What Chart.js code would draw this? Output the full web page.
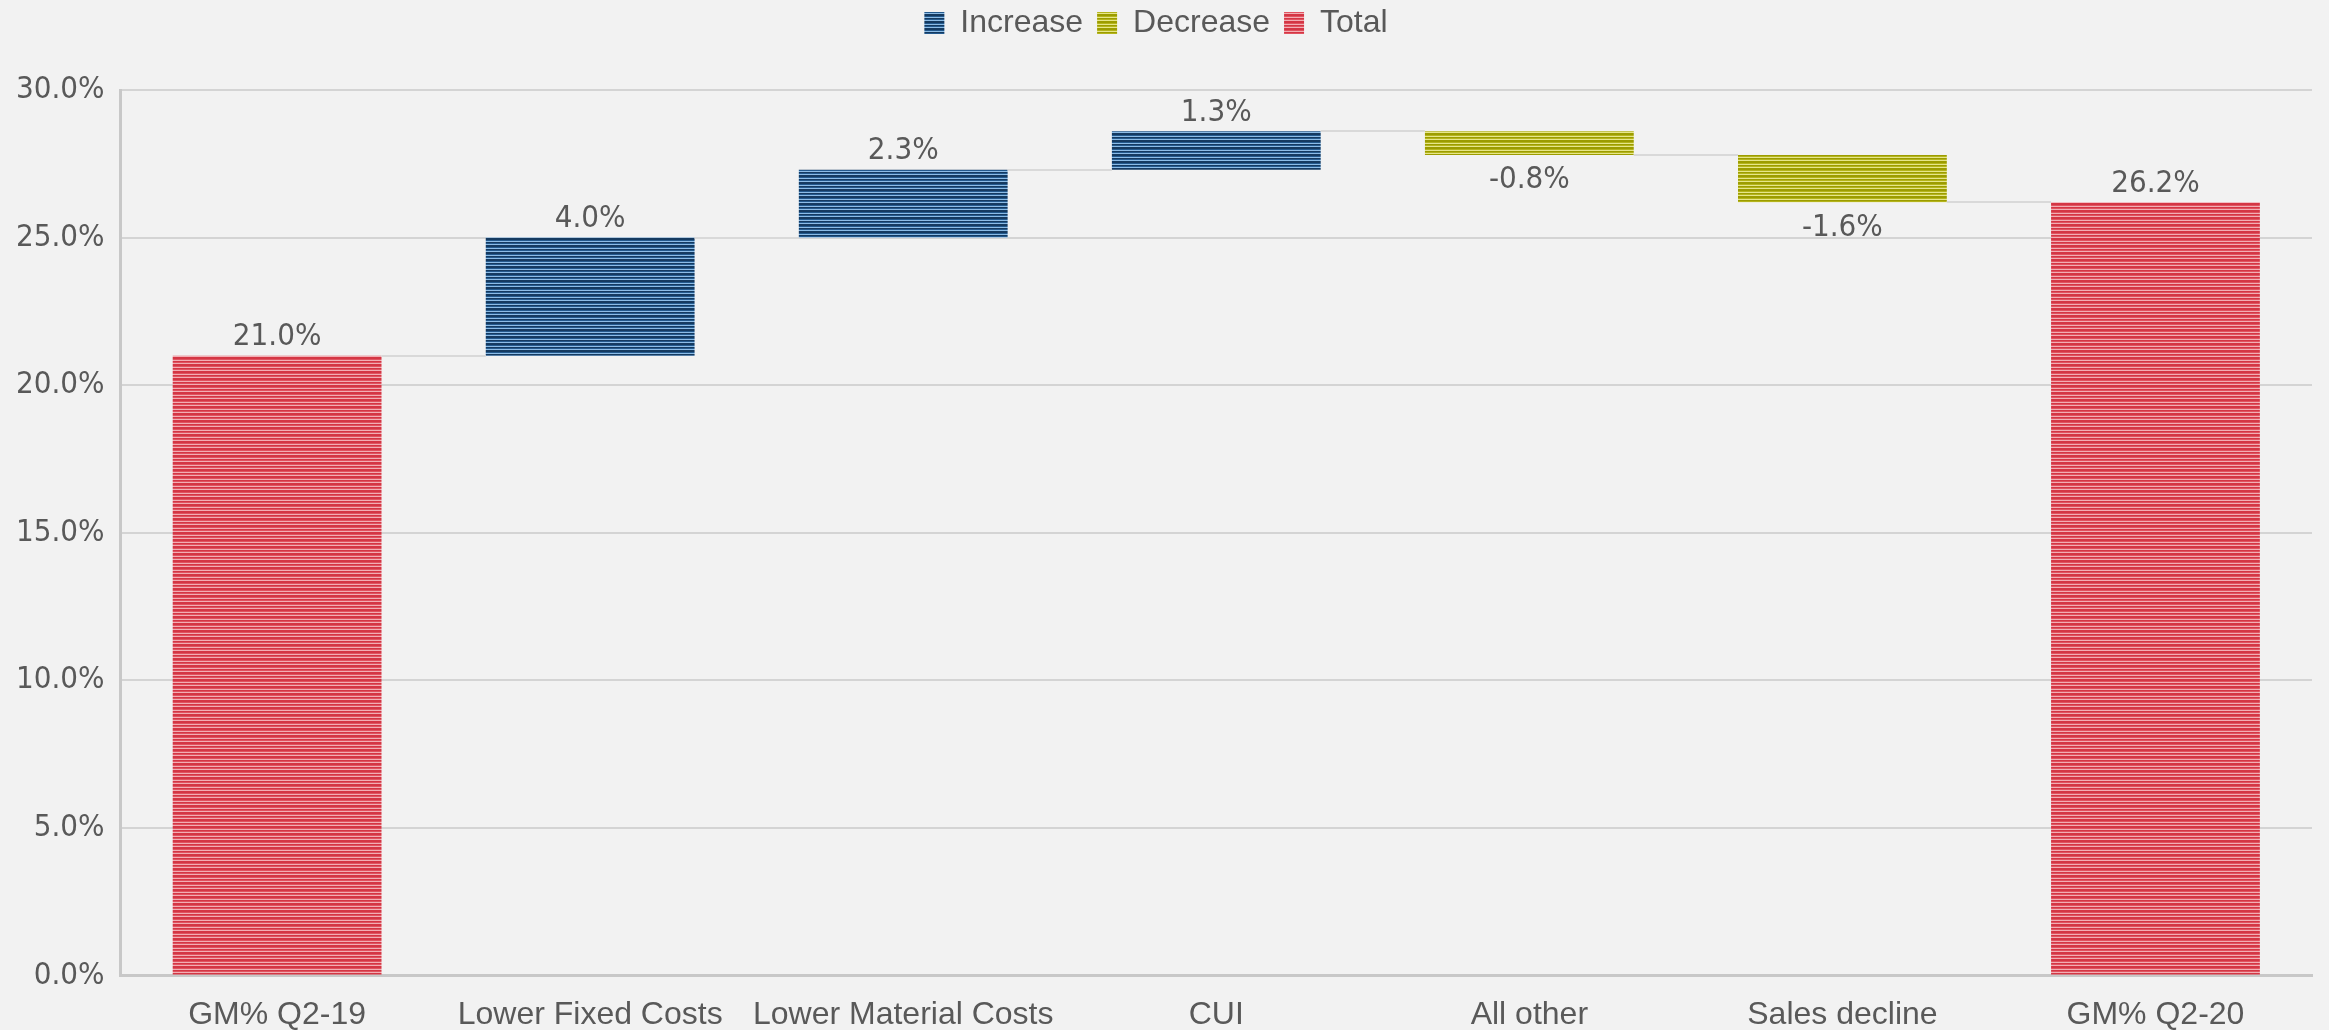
<!DOCTYPE html>
<html>
<head>
<meta charset="utf-8">
<script src="https://cdn.jsdelivr.net/npm/chart.js@4"></script>
<style>
  html, body { margin: 0; padding: 0; background: #f2f2f2; }
  #wrap { width: 2329px; height: 1030px; position: relative; }
</style>
</head>
<body>
<div id="wrap"><canvas id="gm"></canvas></div>
<script>
const categories = ['GM% Q2-19', 'Lower Fixed Costs', 'Lower Material Costs', 'CUI', 'All other', 'Sales decline', 'GM% Q2-20'];
const changes = [21.0, 4.0, 2.3, 1.3, -0.8, -1.6, 26.2];
const kinds = ['total', 'increase', 'increase', 'increase', 'decrease', 'decrease', 'total'];
const seriesNames = ['Increase', 'Decrease', 'Total'];
const yTickValues = [0, 5, 10, 15, 20, 25, 30];

// striped fills like the original
function stripes(rows) {
    const c = document.createElement('canvas');
    c.width = 8;
    c.height = rows.length;
    const g = c.getContext('2d');
    rows.forEach((col, i) => {
        g.fillStyle = col;
        g.fillRect(0, i, 8, 1);
    });
    return g.createPattern(c, 'repeat');
}
const fills = {
    increase: stripes(['#153a60', '#153a60', '#245a8e', '#8cbce6', '#153a60', '#245a8e', '#8cbce6']),
    decrease: stripes(['#9c9c00', '#9c9c00', '#b4b41c', '#e6e68a', '#9c9c00', '#b4b41c', '#e6e68a']),
    total: stripes(['#d43644', '#d43644', '#e05360', '#f2aeb4', '#d43644', '#e05360', '#f2aeb4'])
};

// running totals -> floating bars
const running = [];
const ranges = [];
let level = 0;
changes.forEach((v, i) => {
    if (kinds[i] === 'total') {
        ranges.push([0, v]);
        level = v;
    } else {
        ranges.push([level, +(level + v).toFixed(1)]);
        level = +(level + v).toFixed(1);
    }
    running.push(level);
});

const datasets = ['increase', 'decrease', 'total'].map((k, j) => ({
    label: seriesNames[j],
    data: ranges.map((r, i) => kinds[i] === k ? r : null),
    backgroundColor: fills[k],
    borderWidth: 0,
    grouped: false,
    barPercentage: 0.667,
    categoryPercentage: 1
}));

const narrow = '"Liberation Sans Narrow", "DejaVu Sans Condensed", "Liberation Sans", sans-serif';
const plain = '"Liberation Sans", Arial, sans-serif';

// extra room under the legend
const legendGap = {
    id: 'legendGap',
    beforeInit(chart) {
        const fit = chart.legend.fit;
        chart.legend.fit = function () {
            fit.bind(chart.legend)();
            this.height += 41;
        };
    }
};

const waterfallExtras = {
    id: 'waterfallExtras',
    afterDatasetsDraw(chart) {
        const ctx = chart.ctx;
        const y = chart.scales.y;
        const els = categories.map((c, i) => {
            for (let d = 0; d < chart.data.datasets.length; d++) {
                if (chart.data.datasets[d].data[i]) return chart.getDatasetMeta(d).data[i];
            }
        });
        ctx.save();
        // connectors
        ctx.strokeStyle = '#d9d9d9';
        ctx.lineWidth = 2;
        for (let i = 0; i < els.length - 1; i++) {
            const a = els[i], b = els[i + 1];
            const py = Math.round(y.getPixelForValue(running[i]));
            ctx.beginPath();
            ctx.moveTo(a.x + a.width / 2, py);
            ctx.lineTo(b.x - b.width / 2, py);
            ctx.stroke();
        }
        // value labels
        ctx.fillStyle = '#595959';
        ctx.font = '31px ' + narrow;
        ctx.textAlign = 'center';
        els.forEach((el, i) => {
            const txt = changes[i].toFixed(1) + '%';
            const r = ranges[i];
            if (changes[i] < 0) {
                ctx.textBaseline = 'top';
                ctx.fillText(txt, el.x, y.getPixelForValue(Math.min(r[0], r[1])) + 10);
            } else {
                ctx.textBaseline = 'bottom';
                ctx.fillText(txt, el.x, y.getPixelForValue(Math.max(r[0], r[1])) - 3);
            }
        });
        ctx.restore();
    }
};

new Chart(document.getElementById('gm'), {
    type: 'bar',
    data: { labels: categories, datasets: datasets },
    options: {
        responsive: true,
        maintainAspectRatio: false,
        animation: false,
        layout: { padding: { left: 0, right: 17, top: -7, bottom: -24 } },
        plugins: {
            legend: {
                position: 'top',
                labels: {
                    boxWidth: 20,
                    boxHeight: 22,
                    color: '#595959',
                    padding: 14,
                    font: { family: plain, size: 32 }
                }
            },
            tooltip: { enabled: false }
        },
        scales: {
            y: {
                min: 0,
                max: 30,
                afterBuildTicks(axis) {
                    axis.ticks = yTickValues.map(v => ({ value: v }));
                },
                ticks: {
                    color: '#595959',
                    padding: 16,
                    font: { family: narrow, size: 31 },
                    callback: v => v.toFixed(1) + '%'
                },
                grid: { color: '#d4d4d4', lineWidth: 2, drawTicks: false },
                border: { display: true, color: '#c8c8c8', width: 3 }
            },
            x: {
                ticks: {
                    color: '#595959',
                    padding: 20,
                    font: { family: plain, size: 32 }
                },
                grid: { display: false, drawTicks: false },
                border: { display: true, color: '#c8c8c8', width: 3 }
            }
        }
    },
    plugins: [legendGap, waterfallExtras]
});
</script>
</body>
</html>
